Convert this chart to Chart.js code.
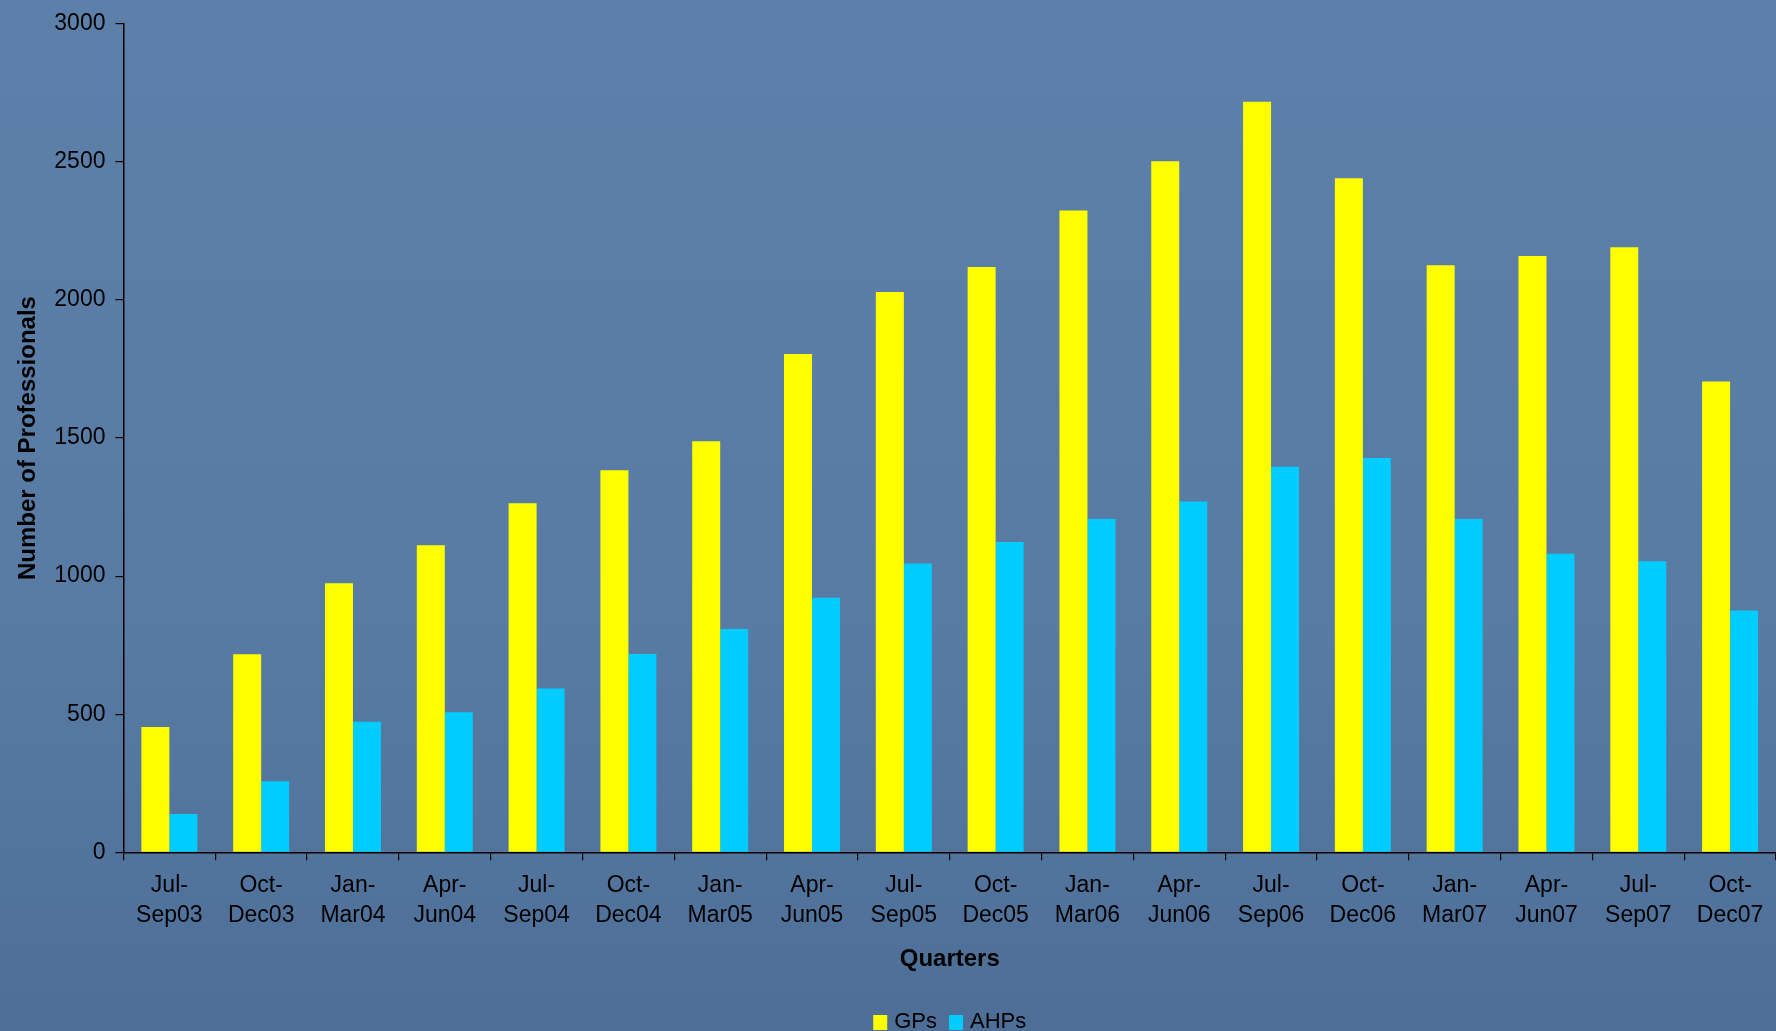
<!DOCTYPE html>
<html>
<head>
<meta charset="utf-8">
<script src="https://cdn.jsdelivr.net/npm/chart.js@4"></script>
<style>
  html, body { margin: 0; padding: 0; background: #557799; }
  #wrap { width: 1776px; height: 1031px; position: relative; }
</style>
</head>
<body>
<div id="wrap"><canvas id="myChart" width="1776" height="1031"></canvas></div>
<script>
// DATA
const quarters = [
  ["Jul-", "Sep03"], ["Oct-", "Dec03"], ["Jan-", "Mar04"], ["Apr-", "Jun04"],
  ["Jul-", "Sep04"], ["Oct-", "Dec04"], ["Jan-", "Mar05"], ["Apr-", "Jun05"],
  ["Jul-", "Sep05"], ["Oct-", "Dec05"], ["Jan-", "Mar06"], ["Apr-", "Jun06"],
  ["Jul-", "Sep06"], ["Oct-", "Dec06"], ["Jan-", "Mar07"], ["Apr-", "Jun07"],
  ["Jul-", "Sep07"], ["Oct-", "Dec07"],
];
const gps = [454, 717, 974, 1112, 1264, 1383, 1488, 1804, 2029, 2119, 2324, 2502, 2718, 2441, 2126, 2159, 2191, 1705];
const ahps = [139, 257, 473, 507, 593, 718, 809, 922, 1046, 1124, 1207, 1270, 1396, 1428, 1207, 1081, 1054, 876];
const yTicks = [0, 500, 1000, 1500, 2000, 2500, 3000];

const FONT = "'Liberation Sans', Arial, Helvetica, sans-serif";

// BACKGROUND
const backgroundPlugin = {
  id: "background",
  beforeDraw(chart) {
    const { ctx, width, height } = chart;
    const g = ctx.createLinearGradient(0, 0, 0, height);
    g.addColorStop(0, "#5c80a9");
    g.addColorStop(0.6, "#587ba4");
    g.addColorStop(1, "#4d6f97");
    ctx.save();
    ctx.fillStyle = g;
    ctx.fillRect(0, 0, width, height);
    ctx.restore();
  },
};

// LEGEND (centred under the plot area, like the original)
const bottomLegend = {
  id: "bottomLegend",
  afterDraw(chart) {
    const { ctx, chartArea } = chart;
    ctx.save();
    ctx.font = "22px " + FONT;
    ctx.textBaseline = "alphabetic";
    const box = 14, gapText = 7, gapItem = 12;
    const items = chart.data.datasets.map((ds) => ({
      label: ds.label,
      color: ds.backgroundColor,
      w: box + gapText + ctx.measureText(ds.label).width,
    }));
    const total = items.reduce((s, it) => s + it.w, 0) + gapItem * (items.length - 1);
    let x = (chartArea.left + chartArea.right) / 2 - total / 2;
    const baseY = 1028;
    items.forEach((it) => {
      ctx.fillStyle = it.color;
      ctx.fillRect(x, 1015, box, 15);
      ctx.fillStyle = "#000";
      ctx.fillText(it.label, x + box + gapText, baseY);
      x += it.w + gapItem;
    });
    ctx.restore();
  },
};

let ctx = document.getElementById("myChart").getContext("2d");
var myChart = new Chart(ctx, {
  type: "bar",
  data: {
    labels: quarters,
    datasets: [
      { label: "GPs", data: gps, backgroundColor: "#ffff00", borderWidth: 0 },
      { label: "AHPs", data: ahps, backgroundColor: "#00ccff", borderWidth: 0 },
    ],
  },
  options: {
    responsive: false,
    animation: false,
    events: [],
    categoryPercentage: 0.61,
    barPercentage: 1.0,
    layout: { padding: { top: 18, right: 0, bottom: 57, left: 0 } },
    plugins: {
      legend: { display: false },
      tooltip: { enabled: false },
    },
    scales: {
      x: {
        offset: true,
        border: { display: true, color: "#000", width: 1.5 },
        grid: {
          display: true,
          offset: true,
          drawOnChartArea: false,
          drawTicks: true,
          tickLength: 8,
          color: "#000",
          lineWidth: 1.2,
        },
        ticks: {
          color: "#000",
          padding: 11,
          maxRotation: 0,
          autoSkip: false,
          font: { family: FONT, size: 23, lineHeight: 1.28 },
        },
        title: {
          display: true,
          text: "Quarters",
          color: "#000",
          font: { family: FONT, size: 24, weight: "bold", lineHeight: 1.2 },
          padding: { top: 4, bottom: 0 },
        },
      },
      y: {
        min: 0,
        max: 3000,
        afterBuildTicks: (axis) => {
          axis.ticks = yTicks.map((v) => ({ value: v }));
        },
        border: { display: true, color: "#000", width: 1.5 },
        grid: {
          display: true,
          drawOnChartArea: false,
          drawTicks: true,
          tickLength: 8,
          color: "#000",
          lineWidth: 1.2,
        },
        ticks: {
          color: "#000",
          padding: 10,
          callback: (v) => String(v),
          font: { family: FONT, size: 23 },
        },
        title: {
          display: true,
          text: "Number of Professionals",
          color: "#000",
          font: { family: FONT, size: 24, weight: "bold", lineHeight: 1.2 },
          padding: { top: 14, bottom: 1.5 },
        },
      },
    },
  },
  plugins: [backgroundPlugin, bottomLegend],
});
</script>
</body>
</html>
